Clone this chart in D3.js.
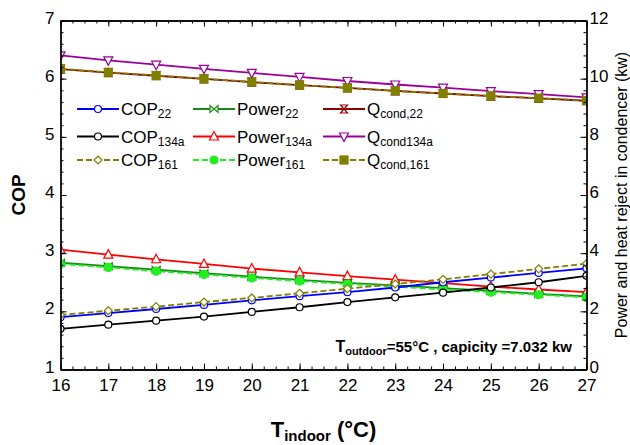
<!DOCTYPE html>
<html>
<head>
<meta charset="utf-8">
<script src="https://cdn.jsdelivr.net/npm/d3@7"></script>
<style>
  body { margin: 0; background: #fff; }
  text { font-family: "Liberation Sans", Arial, sans-serif; fill: #000; }
</style>
</head>
<body>
<div id="chart"></div>
<script>
// indoor temperatures (x)
const tIndoor = [16, 17, 18, 19, 20, 21, 22, 23, 24, 25, 26, 27];

// COP series (left axis)
const cop22   = [1.90, 1.97, 2.04, 2.11, 2.19, 2.26, 2.33, 2.41, 2.50, 2.58, 2.66, 2.74];
const cop134a = [1.70, 1.77, 1.84, 1.91, 1.99, 2.07, 2.16, 2.24, 2.32, 2.41, 2.50, 2.61];
const cop161  = [1.94, 2.01, 2.08, 2.16, 2.23, 2.31, 2.39, 2.47, 2.55, 2.64, 2.73, 2.82];

// power and condenser heat (right axis, kw)
const power22   = [3.67, 3.55, 3.43, 3.31, 3.19, 3.08, 2.98, 2.89, 2.80, 2.70, 2.60, 2.51];
const power134a = [4.12, 3.95, 3.79, 3.63, 3.47, 3.34, 3.21, 3.09, 2.97, 2.85, 2.75, 2.66];
const power161  = [3.63, 3.51, 3.38, 3.27, 3.15, 3.04, 2.94, 2.85, 2.75, 2.66, 2.57, 2.48];
const qcond22   = [10.33, 10.21, 10.10, 9.99, 9.88, 9.78, 9.68, 9.58, 9.49, 9.40, 9.32, 9.24];
const qcond134a = [10.80, 10.63, 10.48, 10.34, 10.20, 10.06, 9.92, 9.80, 9.69, 9.57, 9.47, 9.36];
const qcond161  = [10.34, 10.22, 10.11, 10.00, 9.89, 9.78, 9.68, 9.58, 9.49, 9.41, 9.33, 9.25];

// tick values
const xTicks = [16, 17, 18, 19, 20, 21, 22, 23, 24, 25, 26, 27];
const copTicks = [1, 2, 3, 4, 5, 6, 7];
const kwTicks = [0, 2, 4, 6, 8, 10, 12];

const width = 630, height = 445;
const plotLeft = 60.5, plotRight = 586.5, plotTop = 20.5, plotBottom = 369.5;

const svg = d3.select('#chart').append('svg')
  .attr('width', width)
  .attr('height', height);

const x = d3.scaleLinear().domain([16, 27]).range([plotLeft, plotRight]);
const yCop = d3.scaleLinear().domain([1, 7]).range([plotBottom, plotTop]);
const yKw = d3.scaleLinear().domain([0, 12]).range([plotBottom, plotTop]);

// marker shapes
const markers = {
  circle: g => g.append('circle').attr('r', 3.5).attr('fill', '#fff'),
  dot: g => g.append('circle').attr('r', 4),
  diamond: g => g.append('path').attr('d', 'M0,-4L4,0L0,4L-4,0Z').attr('fill', '#fff'),
  bowtie: g => g.append('path').attr('d', 'M-4,-3.5L-4,3.5L4,-3.5L4,3.5Z').attr('fill', '#fff'),
  hourglass: g => g.append('path').attr('d', 'M-3.5,-4L3.5,-4L-3.5,4L3.5,4Z').attr('fill', '#fff'),
  triUp: g => g.append('path').attr('d', 'M0,-5L4.5,3.5L-4.5,3.5Z').attr('fill', '#fff'),
  triDown: g => g.append('path').attr('d', 'M0,5L4.5,-3.5L-4.5,-3.5Z').attr('fill', '#fff'),
  square: g => g.append('rect').attr('x', -4).attr('y', -4).attr('width', 8).attr('height', 8)
};

const series = [
  { name: 'Qcond22',   values: qcond22,   y: yKw,  color: '#8b0000', dash: null,  marker: 'hourglass' },
  { name: 'Qcond134a', values: qcond134a, y: yKw,  color: '#9a009a', dash: null,  marker: 'triDown' },
  { name: 'Qcond161',  values: qcond161,  y: yKw,  color: '#808000', dash: '6,3', marker: 'square' },
  { name: 'Power134a', values: power134a, y: yKw,  color: '#ff0000', dash: null,  marker: 'triUp' },
  { name: 'Power22',   values: power22,   y: yKw,  color: '#188a18', dash: null,  marker: 'bowtie' },
  { name: 'Power161',  values: power161,  y: yKw,  color: '#22ee22', dash: '6,3', marker: 'dot' },
  { name: 'COP134a',   values: cop134a,   y: yCop, color: '#000000', dash: null,  marker: 'circle' },
  { name: 'COP22',     values: cop22,     y: yCop, color: '#0000ff', dash: null,  marker: 'circle' },
  { name: 'COP161',    values: cop161,    y: yCop, color: '#808000', dash: '6,3', marker: 'diamond' }
];

svg.append('clipPath').attr('id', 'plot-clip')
  .append('rect')
  .attr('x', plotLeft).attr('y', plotTop)
  .attr('width', plotRight - plotLeft).attr('height', plotBottom - plotTop);

const plot = svg.append('g').attr('clip-path', 'url(#plot-clip)');

series.forEach(s => {
  const line = d3.line()
    .x((d, i) => x(tIndoor[i]))
    .y(d => s.y(d));

  plot.append('path')
    .datum(s.values)
    .attr('fill', 'none')
    .attr('stroke', s.color)
    .attr('stroke-width', 1.8)
    .attr('stroke-dasharray', s.dash)
    .attr('d', line);

  s.values.forEach((v, i) => {
    const m = plot.append('g')
      .attr('transform', `translate(${x(tIndoor[i])},${s.y(v)})`)
      .attr('stroke', s.color)
      .attr('stroke-width', 1.2)
      .attr('fill', s.color);
    markers[s.marker](m);
  });
});

// axes, ticks pointing inward
const minorX = d3.range(16, 27.001, 0.25);
const minorCop = d3.range(1, 7.001, 0.2);
const minorKw = d3.range(0, 12.001, 0.4);

function styleAxis(g) {
  g.selectAll('path.domain').attr('stroke', '#000').attr('stroke-width', 1.3);
  g.selectAll('.tick line').attr('stroke', '#000');
  g.selectAll('text').attr('font-size', 17).attr('font-family', '"Liberation Sans", Arial, sans-serif');
}

svg.append('g').attr('transform', `translate(0,${plotBottom})`)
  .call(d3.axisBottom(x).tickValues(minorX).tickSize(-3).tickSizeOuter(0).tickFormat(''))
  .call(styleAxis);
svg.append('g').attr('transform', `translate(0,${plotBottom})`)
  .call(d3.axisBottom(x).tickValues(xTicks).tickSize(-6).tickSizeOuter(0).tickPadding(9).tickFormat(d3.format('d')))
  .call(styleAxis);

svg.append('g').attr('transform', `translate(0,${plotTop})`)
  .call(d3.axisTop(x).tickValues(minorX).tickSize(-3).tickSizeOuter(0).tickFormat(''))
  .call(styleAxis);
svg.append('g').attr('transform', `translate(0,${plotTop})`)
  .call(d3.axisTop(x).tickValues(xTicks).tickSize(-6).tickSizeOuter(0).tickFormat(''))
  .call(styleAxis);

svg.append('g').attr('transform', `translate(${plotLeft},0)`)
  .call(d3.axisLeft(yCop).tickValues(minorCop).tickSize(-3).tickSizeOuter(0).tickFormat(''))
  .call(styleAxis);
svg.append('g').attr('transform', `translate(${plotLeft},0)`)
  .call(d3.axisLeft(yCop).tickValues(copTicks).tickSize(-6).tickSizeOuter(0).tickPadding(6).tickFormat(d3.format('d')))
  .call(styleAxis)
  .call(g => g.selectAll('text').attr('dy', '0.15em'));

svg.append('g').attr('transform', `translate(${plotRight},0)`)
  .call(d3.axisRight(yKw).tickValues(minorKw).tickSize(-3).tickSizeOuter(0).tickFormat(''))
  .call(styleAxis);
svg.append('g').attr('transform', `translate(${plotRight},0)`)
  .call(d3.axisRight(yKw).tickValues(kwTicks).tickSize(-6).tickSizeOuter(0).tickPadding(3).tickFormat(d3.format('d')))
  .call(styleAxis)
  .call(g => g.selectAll('text').attr('dy', '0.15em'));

// axis titles
svg.append('text')
  .attr('transform', `translate(25,${(plotTop + plotBottom) / 2}) rotate(-90)`)
  .attr('text-anchor', 'middle')
  .attr('font-size', 19)
  .attr('font-weight', 'bold')
  .text('COP');

svg.append('text')
  .attr('transform', `translate(627,${(plotTop + plotBottom) / 2}) rotate(-90)`)
  .attr('text-anchor', 'middle')
  .attr('font-size', 16)
  .text('Power and heat reject in condencer (kw)');

const xt = svg.append('text')
  .attr('x', (plotLeft + plotRight) / 2)
  .attr('y', 437)
  .attr('text-anchor', 'middle')
  .attr('font-size', 22)
  .attr('font-weight', 'bold');
xt.append('tspan').text('T');
xt.append('tspan').attr('font-size', 15).attr('dy', 4).text('indoor');
xt.append('tspan').attr('dy', -4).text(' (°C)');

// annotation
const note = svg.append('text')
  .attr('x', 572)
  .attr('y', 352)
  .attr('text-anchor', 'end')
  .attr('font-size', 15)
  .attr('font-weight', 'bold');
note.append('tspan').attr('font-size', 16).text('T');
note.append('tspan').attr('font-size', 11).attr('dy', 3).text('outdoor');
note.append('tspan').attr('dy', -3).text('=55°C , capicity =7.032 kw');

// legend
const legendItems = [
  { s: 'COP22',     base: 'COP',   sub: '22',       col: 0, row: 0 },
  { s: 'COP134a',   base: 'COP',   sub: '134a',     col: 0, row: 1 },
  { s: 'COP161',    base: 'COP',   sub: '161',      col: 0, row: 2 },
  { s: 'Power22',   base: 'Power', sub: '22',       col: 1, row: 0 },
  { s: 'Power134a', base: 'Power', sub: '134a',     col: 1, row: 1 },
  { s: 'Power161',  base: 'Power', sub: '161',      col: 1, row: 2 },
  { s: 'Qcond22',   base: 'Q',     sub: 'cond,22',  col: 2, row: 0 },
  { s: 'Qcond134a', base: 'Q',     sub: 'cond134a', col: 2, row: 1 },
  { s: 'Qcond161',  base: 'Q',     sub: 'cond,161', col: 2, row: 2 }
];
const colX = [77, 193, 323];
const rowY = [109, 136.5, 160];

legendItems.forEach(item => {
  const s = series.find(d => d.name === item.s);
  const lx = colX[item.col], ly = rowY[item.row];
  const g = svg.append('g');
  g.append('line')
    .attr('x1', lx).attr('x2', lx + 42)
    .attr('y1', ly).attr('y2', ly)
    .attr('stroke', s.color)
    .attr('stroke-width', 1.8)
    .attr('stroke-dasharray', s.dash);
  const m = g.append('g')
    .attr('transform', `translate(${lx + 21},${ly})`)
    .attr('stroke', s.color)
    .attr('stroke-width', 1.2)
    .attr('fill', s.color);
  markers[s.marker](m);
  const t = g.append('text')
    .attr('x', lx + 44)
    .attr('y', ly + 6)
    .attr('font-size', 17);
  t.append('tspan').text(item.base);
  t.append('tspan').attr('font-size', 12).attr('dy', 3).text(item.sub);
});
</script>
</body>
</html>
